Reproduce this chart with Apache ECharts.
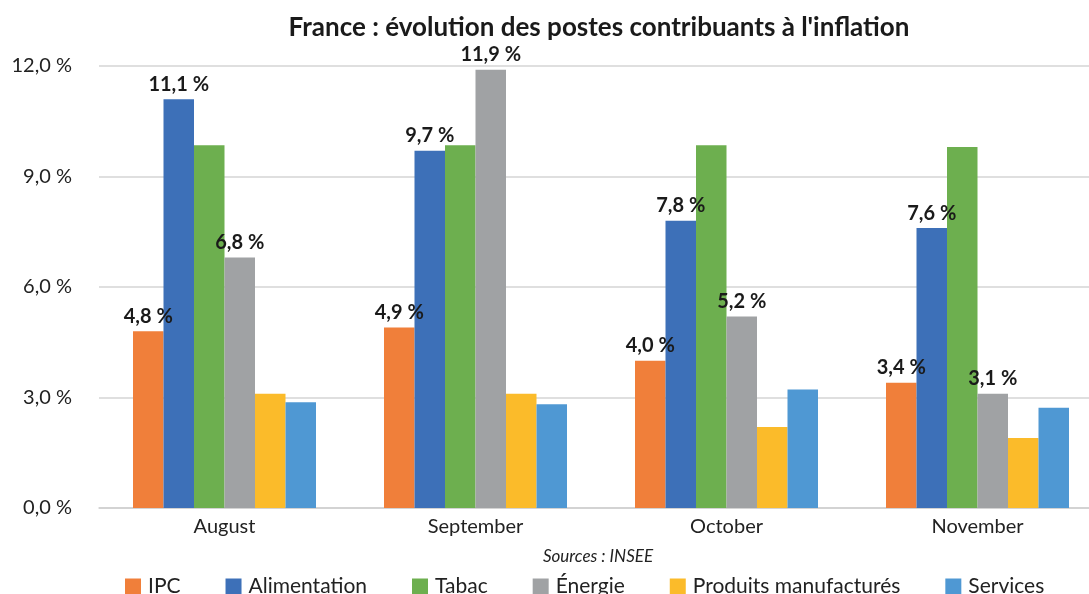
<!DOCTYPE html>
<html>
<head>
<meta charset="utf-8">
<script src="https://cdn.jsdelivr.net/npm/echarts@6/dist/echarts.min.js"></script>
<style>
  html, body { margin: 0; padding: 0; background: #fff; overflow: hidden; }
  /* plot area continues a little past the right edge, as in the source */
  #chart { width: 1103px; height: 594px; }
</style>
</head>
<body>
<div id="chart"></div>
<script>
const months = ['August', 'September', 'October', 'November']
const seriesNames = ['IPC', 'Alimentation', 'Tabac', 'Énergie', 'Produits manufacturés', 'Services']
const ipc = [4.8, 4.9, 4.0, 3.4]
const alimentation = [11.1, 9.7, 7.8, 7.6]
const tabac = [9.85, 9.85, 9.85, 9.8]
const energie = [6.8, 11.9, 5.2, 3.1]
const produits = [3.1, 3.1, 2.2, 1.9]
const services = [2.87, 2.82, 3.22, 2.72]
const yTicks = [0, 3, 6, 9, 12]

const colors = ['#F07F3A', '#3D70B8', '#6DAF4F', '#A0A2A4', '#FBBB2A', '#4F98D3']
const withLabel = [true, true, false, true, false, false]
const font = "Lato, 'Liberation Sans', sans-serif"
const fmt = v => v.toFixed(1).replace('.', ',') + ' %'

const chart = echarts.init(document.getElementById('chart'), null, { renderer: 'canvas' })

const allData = [ipc, alimentation, tabac, energie, produits, services]

const option = {
  animation: false,
  backgroundColor: '#fff',
  graphic: [
    {
      type: 'text', x: 599, y: 28,
      style: {
        text: "France : évolution des postes contribuants à l'inflation",
        font: 'bold 26px ' + font, fill: '#1a1a1a',
        textAlign: 'center', textVerticalAlign: 'middle',
      },
    },
    {
      type: 'text', x: 598, y: 557,
      style: {
        text: 'Sources : INSEE',
        font: 'italic 17px ' + font, fill: '#222',
        textAlign: 'center', textVerticalAlign: 'middle',
      },
    },
  ],
  legend: {
    left: 120,
    top: 571,
    icon: 'rect',
    itemWidth: 16,
    itemHeight: 16,
    itemGap: 45,
    textStyle: { fontFamily: font, fontSize: 21, color: '#222', padding: [0, 0, 0, 2] },
    data: seriesNames,
  },
  grid: { left: 99, right: 0, top: 66, bottom: 86, containLabel: false },
  xAxis: {
    type: 'category',
    data: months,
    axisTick: { show: false },
    axisLine: { lineStyle: { color: '#d0d0d0', width: 1.5 } },
    axisLabel: { fontFamily: font, fontSize: 20, color: '#222', margin: 9 },
  },
  yAxis: {
    type: 'value',
    min: yTicks[0],
    max: yTicks[yTicks.length - 1],
    interval: 3,
    axisLine: { show: false },
    axisTick: { show: false },
    splitLine: { lineStyle: { color: '#d4d4d4', width: 1.5 } },
    axisLabel: { fontFamily: font, fontSize: 20, color: '#222', margin: 27, formatter: fmt },
  },
  series: seriesNames.map((name, i) => ({
    name,
    type: 'bar',
    data: allData[i],
    barWidth: 30.5,
    barGap: '0%',
    itemStyle: { color: colors[i] },
    label: {
      show: withLabel[i],
      position: 'top',
      distance: 5,
      formatter: p => fmt(p.value),
      fontFamily: font,
      fontWeight: 'bold',
      fontSize: 20,
      color: '#1a1a1a',
    },
  })),
}

chart.setOption(option)
</script>
</body>
</html>
